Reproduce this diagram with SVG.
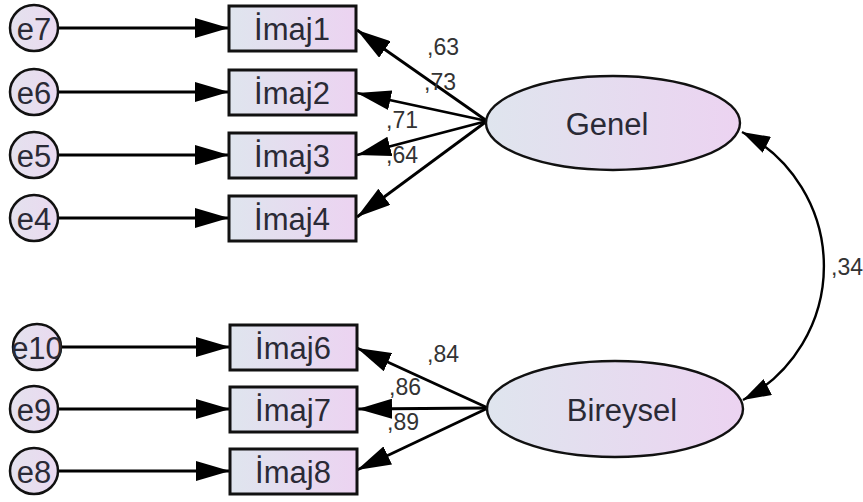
<svg xmlns="http://www.w3.org/2000/svg" width="863" height="502" viewBox="0 0 863 502">
<defs>
<linearGradient id="gb" x1="0" y1="0" x2="1" y2="0">
<stop offset="0" stop-color="#dfe5ee"/>
<stop offset="1" stop-color="#ecd3f1"/>
</linearGradient>
<linearGradient id="gc" x1="0" y1="0" x2="1" y2="0">
<stop offset="0" stop-color="#e4e2ee"/>
<stop offset="1" stop-color="#ead9f0"/>
</linearGradient>
<marker id="ah" viewBox="0 0 34 20" refX="34" refY="10" markerWidth="34" markerHeight="20" markerUnits="userSpaceOnUse" orient="auto-start-reverse">
<path d="M0,0 L34,10 L0,20 z" fill="#000"/>
</marker>
<marker id="ah2" viewBox="0 0 28 18" refX="28" refY="9" markerWidth="28" markerHeight="18" markerUnits="userSpaceOnUse" orient="auto-start-reverse">
<path d="M0,0 L28,9 L0,18 z" fill="#000"/>
</marker>
</defs>
<style>
.err{fill:url(#gc);stroke:#111;stroke-width:2.5}
.box{fill:url(#gb);stroke:#111;stroke-width:3}
.lat{fill:url(#gb);stroke:#111;stroke-width:2.4}
.nt{font-family:"Liberation Sans",Arial,sans-serif;font-size:31px;fill:#2a2a36;text-anchor:middle;dominant-baseline:central}
.lb{font-family:"Liberation Sans",Arial,sans-serif;font-size:23px;fill:#333;text-anchor:start}
.c{stroke:#000;stroke-width:2.8;fill:none;marker-end:url(#ah)}
</style>
<g id="connectors">
<line class="c" x1="58" y1="28" x2="229" y2="28"/>
<line class="c" x1="58" y1="92" x2="229" y2="92"/>
<line class="c" x1="58" y1="155" x2="229" y2="155"/>
<line class="c" x1="58" y1="218" x2="229" y2="218"/>
<line class="c" x1="61" y1="347" x2="230" y2="347"/>
<line class="c" x1="58" y1="409" x2="230" y2="409"/>
<line class="c" x1="58" y1="471" x2="230" y2="471"/>
<line class="c" x1="487" y1="121" x2="357" y2="30"/>
<line class="c" x1="487" y1="121" x2="357" y2="93"/>
<line class="c" x1="487" y1="121" x2="357" y2="155"/>
<line class="c" x1="487" y1="121" x2="357" y2="217"/>
<line class="c" x1="488" y1="408" x2="357" y2="348"/>
<line class="c" x1="488" y1="408" x2="358" y2="409"/>
<line class="c" x1="488" y1="408" x2="357" y2="470"/>
<path d="M742,132 A151,151 0 0 1 743,400" stroke="#000" stroke-width="2.4" fill="none" marker-start="url(#ah2)" marker-end="url(#ah2)"/>
<text class="lb" x="427" y="55">,63</text>
<text class="lb" x="424" y="90">,73</text>
<text class="lb" x="386" y="128">,71</text>
<text class="lb" x="386" y="163">,64</text>
<text class="lb" x="427" y="362">,84</text>
<text class="lb" x="389" y="395">,86</text>
<text class="lb" x="387" y="430">,89</text>
<text class="lb" x="831" y="275">,34</text>
</g>
<g id="e7"><ellipse class="err" cx="34" cy="28" rx="24" ry="23"/><text class="nt" x="34" y="29">e7</text></g>
<g id="e6"><ellipse class="err" cx="34" cy="92" rx="24" ry="23"/><text class="nt" x="34" y="93">e6</text></g>
<g id="e5"><ellipse class="err" cx="34" cy="155" rx="24" ry="23"/><text class="nt" x="34" y="156">e5</text></g>
<g id="e4"><ellipse class="err" cx="34" cy="218" rx="24" ry="23"/><text class="nt" x="34" y="219">e4</text></g>
<g id="e10"><ellipse class="err" cx="37" cy="347" rx="24" ry="23"/><text class="nt" x="37" y="348">e10</text></g>
<g id="e9"><ellipse class="err" cx="34" cy="409" rx="24" ry="23"/><text class="nt" x="34" y="410">e9</text></g>
<g id="e8"><ellipse class="err" cx="34" cy="471" rx="24" ry="23"/><text class="nt" x="34" y="472">e8</text></g>
<g id="imaj1"><rect class="box" x="229" y="6" width="127" height="45"/><text class="nt" x="292" y="29">İmaj1</text></g>
<g id="imaj2"><rect class="box" x="229" y="70" width="127" height="45"/><text class="nt" x="292" y="93">İmaj2</text></g>
<g id="imaj3"><rect class="box" x="229" y="133" width="127" height="45"/><text class="nt" x="292" y="156">İmaj3</text></g>
<g id="imaj4"><rect class="box" x="229" y="196" width="127" height="45"/><text class="nt" x="292" y="219">İmaj4</text></g>
<g id="imaj6"><rect class="box" x="230" y="325" width="127" height="45"/><text class="nt" x="293" y="348">İmaj6</text></g>
<g id="imaj7"><rect class="box" x="230" y="387" width="127" height="45"/><text class="nt" x="293" y="410">İmaj7</text></g>
<g id="imaj8"><rect class="box" x="230" y="449" width="127" height="45"/><text class="nt" x="293" y="472">İmaj8</text></g>
<g id="genel"><ellipse class="lat" cx="613" cy="123" rx="127" ry="47"/><text class="nt" x="607" y="124">Genel</text></g>
<g id="bireysel"><ellipse class="lat" cx="615" cy="409" rx="128" ry="48"/><text class="nt" x="622" y="410">Bireysel</text></g>
</svg>
